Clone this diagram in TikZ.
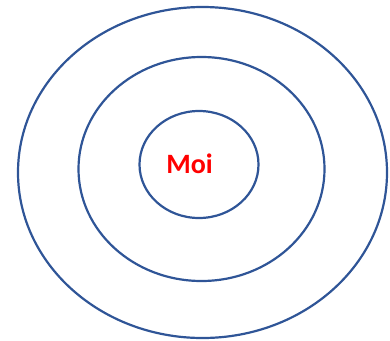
\documentclass[tikz,border=0pt]{standalone}
\usepackage{fontspec}
\setmainfont{Carlito}
\definecolor{ringblue}{HTML}{2F5597}
\definecolor{moired}{HTML}{FF0000}
\begin{document}
\begin{tikzpicture}[x=1pt,y=-1pt,
  ring/.style={draw=ringblue,line width=2.2pt}]
\useasboundingbox (0,0) rectangle (390,340);
\draw[ring] (202.5,172.5) ellipse [x radius=184.5,y radius=165.5];
\draw[ring] (201.5,169) ellipse [x radius=123,y radius=112];
\draw[ring] (199,164.5) ellipse [x radius=59.5,y radius=53.5];
\node[text=moired,font=\fontsize{28}{30}\selectfont\bfseries,inner sep=0pt,anchor=base] (moi) at (189.5,173) {Moi};
\end{tikzpicture}
\end{document}
